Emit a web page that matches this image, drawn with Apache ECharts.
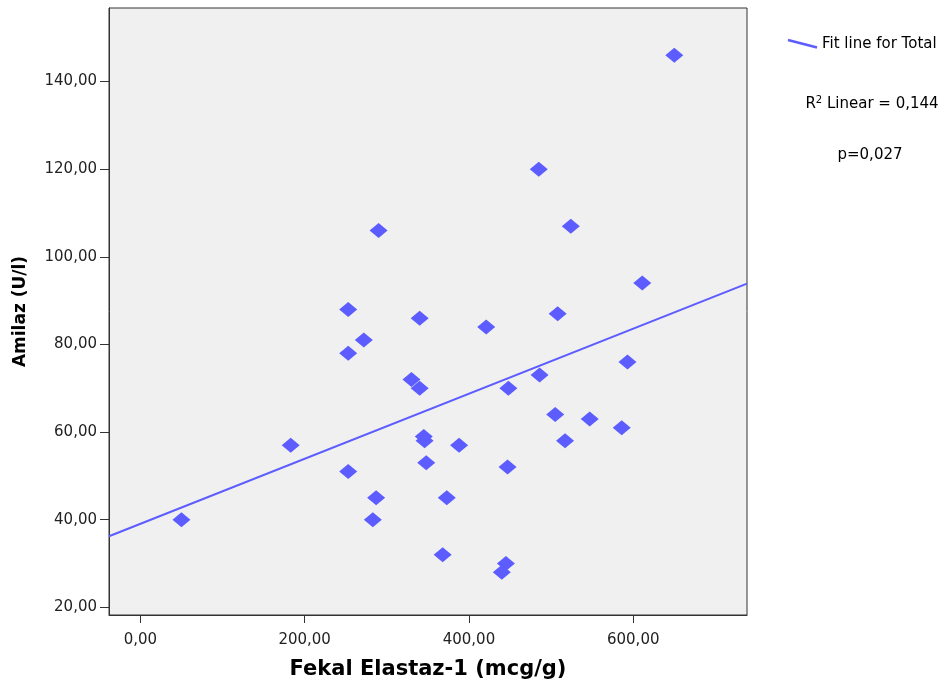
<!DOCTYPE html>
<html>
<head>
<meta charset="utf-8">
<script src="https://cdn.jsdelivr.net/npm/echarts@6/dist/echarts.min.js"></script>
<style>
html,body{margin:0;padding:0;background:#fff;}
#chart{width:950px;height:686px;}
</style>
</head>
<body>
<div id="chart"></div>
<script>
// Fekal Elastaz-1 (mcg/g)
var elastaz = [50, 183, 253, 253, 253, 272, 290, 287, 283, 340, 330, 340, 345, 346, 348, 388, 373, 368, 421, 447, 448, 445, 440, 485, 486, 508, 505, 517, 524, 547, 586, 593, 611, 650];
// Amilaz (U/l)
var amilaz = [40, 57, 88, 78, 51, 81, 106, 45, 40, 86, 72, 70, 59, 58, 53, 57, 45, 32, 84, 52, 70, 30, 28, 120, 73, 87, 64, 58, 107, 63, 61, 76, 94, 146];
var xTicks = [0, 200, 400, 600];
var yTicks = [20, 40, 60, 80, 100, 120, 140];
var xRange = [-38.2, 738.5];
var yRange = [18.24, 156.8];
var fitLabel = 'Fit line for Total';
var r2Text = '0,144';
var pText = 'p=0,027';

var pts = elastaz.map(function (x, i) { return [x, amilaz[i]]; });
// least-squares fit
var n = elastaz.length, mx = 0, my = 0;
for (var i = 0; i < n; i++) { mx += elastaz[i]; my += amilaz[i]; }
mx /= n; my /= n;
var sxy = 0, sxx = 0;
for (i = 0; i < n; i++) { sxy += (elastaz[i] - mx) * (amilaz[i] - my); sxx += (elastaz[i] - mx) * (elastaz[i] - mx); }
var slope = sxy / sxx, icpt = my - slope * mx;
var fit = [[xRange[0], icpt + slope * xRange[0]], [xRange[1], icpt + slope * xRange[1]]];

var fmt = function (v) { return v.toFixed(2).replace('.', ','); };
var FONT = 'DejaVu Sans';
var BLUE = '#5c5cff';

var chart = echarts.init(document.getElementById('chart'), null, {renderer: 'canvas'});
chart.setOption({
  animation: false,
  grid: {left: 109, right: 203, top: 8, bottom: 71, show: true, backgroundColor: '#f0f0f0', borderColor: '#333', borderWidth: 1},
  xAxis: {
    type: 'value', min: xRange[0], max: xRange[1],
    name: 'Fekal Elastaz-1 (mcg/g)', nameLocation: 'middle', nameGap: 44,
    nameTextStyle: {fontFamily: FONT, fontWeight: 'bold', fontSize: 21, color: '#000'},
    axisLine: {show: true, onZero: false, lineStyle: {color: '#333', width: 1}},
    axisTick: {show: true, length: 8, customValues: xTicks, lineStyle: {color: '#333', width: 1}},
    axisLabel: {customValues: xTicks, formatter: fmt, fontFamily: FONT, fontSize: 15, color: '#222', margin: 18},
    splitLine: {show: false}
  },
  yAxis: {
    type: 'value', min: yRange[0], max: yRange[1],
    name: 'Amilaz (U/l)', nameLocation: 'middle', nameGap: 80, nameRotate: 90,
    nameTextStyle: {fontFamily: FONT, fontWeight: 'bold', fontSize: 17, color: '#000'},
    axisLine: {show: true, onZero: false, lineStyle: {color: '#333', width: 1}},
    axisTick: {show: true, length: 9, customValues: yTicks, lineStyle: {color: '#333', width: 1}},
    axisLabel: {customValues: yTicks, formatter: fmt, fontFamily: FONT, fontSize: 15, color: '#222', margin: 12},
    splitLine: {show: false}
  },
  series: [
    {type: 'line', data: fit, symbol: 'none', clip: true, lineStyle: {color: BLUE, width: 2}, z: 2},
    {type: 'scatter', data: pts, symbol: 'diamond', symbolSize: [18, 15], itemStyle: {color: BLUE, opacity: 1}, z: 3}
  ],
  graphic: [
    {type: 'line', shape: {x1: 788, y1: 40, x2: 817, y2: 47.5}, style: {stroke: BLUE, lineWidth: 2.5}},
    {type: 'text', left: 822, top: 37, style: {text: fitLabel, font: '15px "DejaVu Sans"', fill: '#000'}},
    {type: 'text', x: 872, y: 104, style: {text: 'R{sup|2} Linear = ' + r2Text, font: '15px "DejaVu Sans"', fill: '#000', align: 'center', verticalAlign: 'middle',
      rich: {sup: {fontSize: 10, fontFamily: FONT, verticalAlign: 'top', padding: [0, 0, 8, 0], fill: '#000'}}}},
    {type: 'text', x: 870, y: 155, style: {text: pText, font: '15px "DejaVu Sans"', fill: '#000', align: 'center', verticalAlign: 'middle'}}
  ]
});
</script>
</body>
</html>
